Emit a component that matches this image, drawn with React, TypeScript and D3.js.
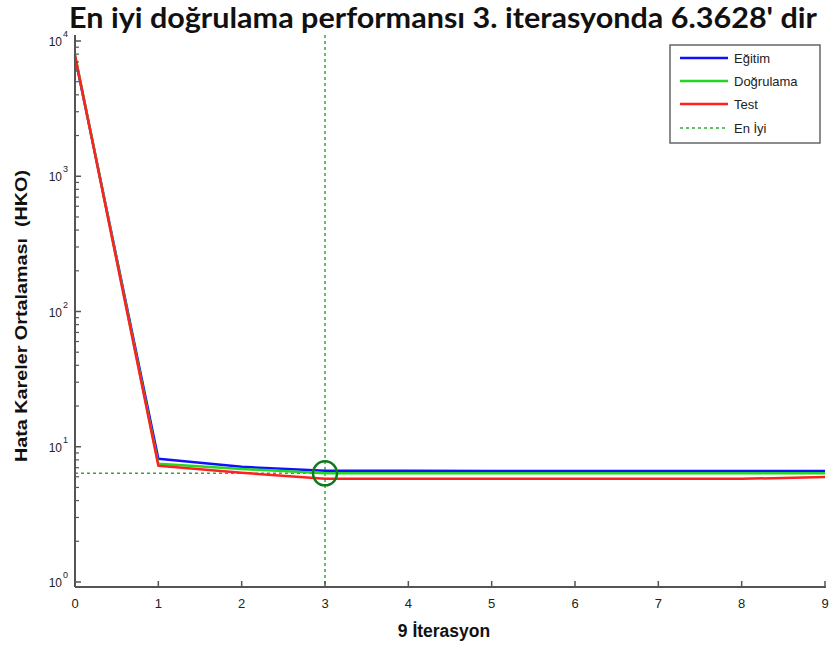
import React from "react";
import * as d3 from "d3";

// Performance data per iteration (mean squared error, log scale)
const iterations = [0, 1, 2, 3, 4, 5, 6, 7, 8, 9];
const egitim = [7600, 8.15, 7.1, 6.64, 6.64, 6.63, 6.63, 6.63, 6.63, 6.63];
const dogrulama = [7900, 7.48, 6.85, 6.3628, 6.36, 6.36, 6.36, 6.36, 6.36, 6.36];
const test = [7800, 7.23, 6.42, 5.79, 5.79, 5.79, 5.79, 5.79, 5.79, 5.97];

const bestEpoch = 3;
const bestValue = 6.3628;

const xTicks = [0, 1, 2, 3, 4, 5, 6, 7, 8, 9];
const yExponents = [0, 1, 2, 3, 4];

const legendLabels = ["Eğitim", "Doğrulama", "Test", "En İyi"];

const W = 834;
const H = 648;

export default function App() {
  const left = 75;
  const right = 825;
  const top = 35;
  const bottom = 587;
  // pixel positions of decades 10^0 and 10^4
  const y0px = 582;
  const y4px = 41;
  const k = (y0px - y4px) / 4;
  const yMin = Math.pow(10, -(bottom - y0px) / k);
  const yMax = Math.pow(10, 4 + (y4px - top) / k);

  const x = d3.scaleLinear().domain([0, 9]).range([left, right]);
  const y = d3.scaleLog().domain([yMin, yMax]).range([bottom, top]);

  const line = d3
    .line<number>()
    .x((_, i) => x(iterations[i]))
    .y((d) => y(d));

  const minorTicks: number[] = [];
  for (let e = 0; e < 4; e++) {
    for (let m = 2; m <= 9; m++) minorTicks.push(m * Math.pow(10, e));
  }

  const axisColor = "#555";
  const textColor = "#222";
  const font = "'Liberation Sans', Arial, sans-serif";

  const series = [
    { values: egitim, color: "#1010ff" },
    { values: dogrulama, color: "#22d822" },
    { values: test, color: "#ff2020" },
  ];

  const legendX = 670;
  const legendY = 45;
  const rowY = [58, 81, 104, 128];
  const legendColors = ["#1010ff", "#22d822", "#ff2020", "#33aa33"];

  return (
    <svg
      width={W}
      height={H}
      style={{ position: "absolute", left: 0, top: 0, background: "#fff" }}
    >
      <rect x={0} y={0} width={W} height={H} fill="#fff" />

      {/* title */}
      <text
        x={443}
        y={28}
        textAnchor="middle"
        fontFamily="Lato, 'Open Sans', sans-serif"
        fontWeight="bold"
        fontSize={28}
        textLength={748}
        lengthAdjust="spacingAndGlyphs"
        fill="#111"
      >
        En iyi doğrulama performansı 3. iterasyonda 6.3628' dir
      </text>

      {/* best value guides */}
      <line
        x1={x(bestEpoch)}
        x2={x(bestEpoch)}
        y1={top}
        y2={bottom}
        stroke="#33aa33"
        strokeWidth={1.5}
        strokeDasharray="3,3"
      />
      <line
        x1={left}
        x2={x(bestEpoch)}
        y1={y(bestValue)}
        y2={y(bestValue)}
        stroke="#33aa33"
        strokeWidth={1.5}
        strokeDasharray="3,3"
      />

      {/* series */}
      {series.map((s, i) => (
        <path
          key={i}
          d={line(s.values) || ""}
          fill="none"
          stroke={s.color}
          strokeWidth={2.5}
          strokeLinejoin="round"
        />
      ))}

      {/* best point marker */}
      <circle
        cx={x(bestEpoch)}
        cy={y(bestValue)}
        r={12}
        fill="none"
        stroke="#0f7a1a"
        strokeWidth={2.5}
      />

      {/* axes */}
      <line x1={left} x2={left} y1={top} y2={bottom} stroke={axisColor} strokeWidth={2} />
      <line x1={left} x2={right + 1} y1={bottom} y2={bottom} stroke={axisColor} strokeWidth={2} />

      {xTicks.map((t) => (
        <g key={"xt" + t}>
          <line x1={x(t)} x2={x(t)} y1={bottom} y2={bottom - 6} stroke={axisColor} strokeWidth={1.5} />
          <text
            x={x(t)}
            y={608}
            textAnchor="middle"
            fontFamily={font}
            fontSize={13}
            fill={textColor}
          >
            {t}
          </text>
        </g>
      ))}

      {yExponents.map((e) => {
        const py = y(Math.pow(10, e));
        return (
          <g key={"yt" + e}>
            <line x1={left} x2={left + 6} y1={py} y2={py} stroke={axisColor} strokeWidth={1.5} />
            <text
              x={62}
              y={py + 5}
              textAnchor="end"
              fontFamily={font}
              fontSize={12}
              fill={textColor}
            >
              10
            </text>
            <text x={63} y={py - 4} fontFamily={font} fontSize={9} fill={textColor}>
              {e}
            </text>
          </g>
        );
      })}
      {minorTicks.map((t) => (
        <line
          key={"ym" + t}
          x1={left}
          x2={left + 4}
          y1={y(t)}
          y2={y(t)}
          stroke={axisColor}
          strokeWidth={1.2}
        />
      ))}

      {/* axis labels */}
      <text
        x={444}
        y={637}
        textAnchor="middle"
        fontFamily={font}
        fontWeight="bold"
        fontSize={17.5}
        fill="#111"
      >
        9 İterasyon
      </text>
      <text
        transform={`translate(27,316) rotate(-90)`}
        textAnchor="middle"
        fontFamily={font}
        fontWeight="bold"
        fontSize={17}
        textLength={292}
        lengthAdjust="spacingAndGlyphs"
        style={{ whiteSpace: "pre" }}
        fill="#111"
      >
        Hata Kareler Ortalaması  (HKO)
      </text>

      {/* legend */}
      <rect
        x={legendX}
        y={legendY}
        width={150}
        height={98}
        fill="#fff"
        stroke="#666"
        strokeWidth={1.5}
      />
      {legendLabels.map((lbl, i) => (
        <g key={"lg" + i}>
          <line
            x1={680}
            x2={728}
            y1={rowY[i]}
            y2={rowY[i]}
            stroke={legendColors[i]}
            strokeWidth={i === 3 ? 1.5 : 2.5}
            strokeDasharray={i === 3 ? "3,3" : undefined}
          />
          <text x={734} y={rowY[i] + 5} fontFamily={font} fontSize={13} fill={textColor}>
            {lbl}
          </text>
        </g>
      ))}
    </svg>
  );
}
